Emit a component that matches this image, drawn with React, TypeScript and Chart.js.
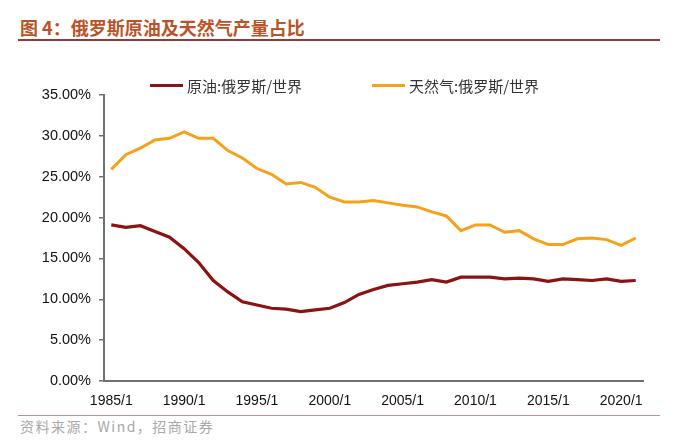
import React, { useEffect, useRef } from "react";
import { Chart, registerables } from "chart.js";

Chart.register(...registerables);

const years = [
  "1985/1", "1986/1", "1987/1", "1988/1", "1989/1", "1990/1", "1991/1", "1992/1", "1993/1", "1994/1",
  "1995/1", "1996/1", "1997/1", "1998/1", "1999/1", "2000/1", "2001/1", "2002/1", "2003/1", "2004/1",
  "2005/1", "2006/1", "2007/1", "2008/1", "2009/1", "2010/1", "2011/1", "2012/1", "2013/1", "2014/1",
  "2015/1", "2016/1", "2017/1", "2018/1", "2019/1", "2020/1", "2021/1",
];

const shownYears = ["1985/1", "1990/1", "1995/1", "2000/1", "2005/1", "2010/1", "2015/1", "2020/1"];

const oilShare = [
  19.1, 18.8, 19.0, 18.3, 17.6, 16.2, 14.5, 12.3, 10.9, 9.7,
  9.3, 8.9, 8.8, 8.5, 8.7, 8.9, 9.6, 10.6, 11.2, 11.7,
  11.9, 12.1, 12.4, 12.1, 12.7, 12.7, 12.7, 12.5, 12.6, 12.5,
  12.2, 12.5, 12.4, 12.3, 12.5, 12.2, 12.3,
];

const gasShare = [
  25.9, 27.7, 28.5, 29.5, 29.7, 30.5, 29.7, 29.7, 28.2, 27.3,
  26.0, 25.3, 24.1, 24.3, 23.7, 22.5, 21.9, 21.9, 22.1, 21.8,
  21.5, 21.3, 20.7, 20.2, 18.4, 19.1, 19.1, 18.2, 18.4, 17.4,
  16.7, 16.7, 17.4, 17.5, 17.3, 16.6, 17.5,
];

const seriesNames = ["原油:俄罗斯/世界", "天然气:俄罗斯/世界"];
const seriesColors = ["#8B1313", "#F5A21A"];

const titleText = "图 4：俄罗斯原油及天然气产量占比";
const sourceText = "资料来源：Wind，招商证券";

const latin = "'Liberation Sans', Arial, sans-serif";
const cjk = "'Noto Sans CJK SC', 'Liberation Sans', sans-serif";

export default function App() {
  const canvasRef = useRef<HTMLCanvasElement | null>(null);

  useEffect(() => {
    const canvas = canvasRef.current;
    if (!canvas) return;
    const chart = new Chart(canvas, {
      type: "line",
      data: {
        labels: years,
        datasets: [
          {
            label: seriesNames[0],
            data: oilShare,
            borderColor: seriesColors[0],
            backgroundColor: seriesColors[0],
            borderWidth: 3.2,
            pointRadius: 0,
            tension: 0,
          },
          {
            label: seriesNames[1],
            data: gasShare,
            borderColor: seriesColors[1],
            backgroundColor: seriesColors[1],
            borderWidth: 3,
            pointRadius: 0,
            tension: 0,
          },
        ],
      },
      options: {
        responsive: false,
        animation: false,
        layout: { padding: { top: 95, right: 57, bottom: 0, left: 0 } },
        plugins: {
          legend: { display: false },
          tooltip: { enabled: false },
        },
        scales: {
          x: {
            type: "category",
            offset: true,
            grid: { display: false, drawTicks: false },
            border: { display: true, color: "#707070", width: 2 },
            ticks: {
              autoSkip: false,
              maxRotation: 0,
              padding: 12,
              color: "#111",
              font: { family: latin, size: 14 },
              callback: function (_v: any, i: number) {
                const lab = years[i];
                return shownYears.includes(lab) ? lab : "";
              },
            },
            afterFit: (scale: any) => {
              scale.height = 31;
            },
          },
          y: {
            min: 0,
            max: 35,
            grid: {
              drawOnChartArea: false,
              drawTicks: true,
              tickLength: 5,
              color: "#707070",
              lineWidth: 1.5,
            },
            border: { display: true, color: "#707070", width: 2 },
            ticks: {
              stepSize: 5,
              padding: 8,
              color: "#111",
              font: { family: latin, size: 14.5 },
              callback: (v: any) => Number(v).toFixed(2) + "%",
            },
            afterFit: (scale: any) => {
              scale.width = 104;
            },
          },
        },
      },
    });
    return () => chart.destroy();
  }, []);

  const legendPos = [150, 372];

  return (
    <div style={{ position: "fixed", left: 0, top: 0, width: 700, height: 446, background: "#fff", overflow: "hidden" }}>
      <div
        style={{
          position: "absolute",
          left: 20,
          top: 16,
          fontFamily: cjk,
          fontWeight: 700,
          fontSize: 18,
          lineHeight: "23px",
          color: "#BA5428",
          whiteSpace: "nowrap",
        }}
      >
        {titleText}
      </div>
      <div style={{ position: "absolute", left: 18, top: 39, width: 642, height: 2, background: "#8E3B3B" }} />
      <canvas ref={canvasRef} width={700} height={412} style={{ position: "absolute", left: 0, top: 0 }} />
      {seriesNames.map((name, i) => (
        <div key={name} style={{ position: "absolute", left: legendPos[i], top: 75, height: 20, display: "flex", alignItems: "center" }}>
          <div style={{ width: 33, height: 3, background: seriesColors[i] }} />
          <span style={{ marginLeft: 4, fontFamily: cjk, fontSize: 15, color: "#333", whiteSpace: "nowrap" }}>{name}</span>
        </div>
      ))}
      <div style={{ position: "absolute", left: 18, top: 415, width: 642, height: 1, background: "#C58E8E" }} />
      <div
        style={{
          position: "absolute",
          left: 20,
          top: 417,
          fontFamily: cjk,
          fontSize: 14,
          lineHeight: "18px",
          letterSpacing: "1.5px",
          color: "#A8A8A8",
          whiteSpace: "nowrap",
        }}
      >
        {sourceText}
      </div>
    </div>
  );
}
